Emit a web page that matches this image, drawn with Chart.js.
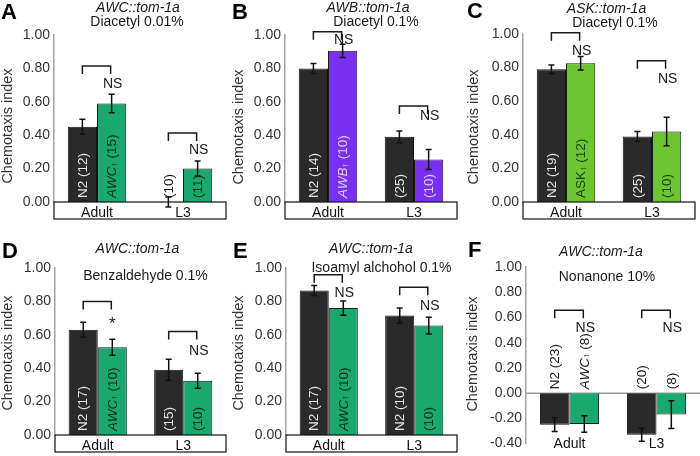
<!DOCTYPE html>
<html>
<head>
<meta charset="utf-8">
<script src="https://cdn.jsdelivr.net/npm/chart.js@4.4.1/dist/chart.umd.min.js"></script>
<style>
  html,body{margin:0;padding:0;background:#fff;}
  body{width:700px;height:456px;overflow:hidden;position:relative;}
  canvas{position:absolute;}
</style>
</head>
<body>
<script>
const FONT = "'Liberation Sans', Arial, Helvetica, sans-serif";

// ---- shared ----
const categories = ['Adult', 'L3'];
const yRangeMain = [0, 1.0];
const yRangeF = [-0.4, 1.0];
const yStep = 0.2;

// ---- Panel A: AWC::tom-1a, Diacetyl 0.01% ----
const aN2 = [0.45, 0.00];
const aN2Err = [0.045, 0.03];
const aMut = [0.59, 0.20];
const aMutErr = [0.055, 0.045];
const aN2Labels = ['N2 (12)', '(10)'];
const aMutLabels = ['AWC↑ (15)', '(11)'];
const aSig = ['NS', 'NS'];

// ---- Panel B: AWB::tom-1a, Diacetyl 0.1% ----
const bN2 = [0.80, 0.39];
const bN2Err = [0.03, 0.035];
const bMut = [0.905, 0.255];
const bMutErr = [0.04, 0.06];
const bN2Labels = ['N2 (14)', '(25)'];
const bMutLabels = ['AWB↑ (10)', '(10)'];
const bSig = ['NS', 'NS'];

// ---- Panel C: ASK::tom-1a, Diacetyl 0.1% ----
const cN2 = [0.79, 0.39];
const cN2Err = [0.025, 0.03];
const cMut = [0.826, 0.42];
const cMutErr = [0.04, 0.085];
const cN2Labels = ['N2 (19)', '(25)'];
const cMutLabels = ['ASK↑ (12)', '(10)'];
const cSig = ['NS', 'NS'];

// ---- Panel D: AWC::tom-1a, Benzaldehyde 0.1% ----
const dN2 = [0.63, 0.39];
const dN2Err = [0.045, 0.064];
const dMut = [0.525, 0.325];
const dMutErr = [0.048, 0.045];
const dN2Labels = ['N2 (17)', '(15)'];
const dMutLabels = ['AWC↑ (10)', '(10)'];
const dSig = ['*', 'NS'];

// ---- Panel E: AWC::tom-1a, Isoamyl alchohol 0.1% ----
const eN2 = [0.865, 0.715];
const eN2Err = [0.03, 0.045];
const eMut = [0.76, 0.655];
const eMutErr = [0.043, 0.05];
const eN2Labels = ['N2 (17)', 'N2 (10)'];
const eMutLabels = ['AWC↑ (10)', '(10)'];
const eSig = ['NS', 'NS'];

// ---- Panel F: AWC::tom-1a, Nonanone 10% ----
const fN2 = [-0.25, -0.33];
const fN2Err = [0.055, 0.052];
const fMut = [-0.245, -0.17];
const fMutErr = [0.065, 0.11];
const fN2Labels = ['N2 (23)', '(20)'];
const fMutLabels = ['AWC↑ (8)', '(8)'];
const fSig = ['NS', 'NS'];

const N2_COLOR = '#2a2a2a';
const N2_TEXT = '#e6e6e6';
const AWC_GREEN = '#19a96e';
const AWC_TEXT = '#0e2a1c';
const LABEL_PX = 13.5;

const panels = [
  {letter:'A', letterPos:[1,18.5], canvas:[0,0,232,228], area:[54,35,226,202], range:yRangeMain, box:true,
   title:['AWC::tom-1a','Diacetyl 0.01%'], titlePos:[[138,12],[137,25.5]], yTitle:[8,126],
   mutName:'AWC', mutItalic:true, mutColor:AWC_GREEN, mutText:AWC_TEXT,
   n2:aN2, n2Err:aN2Err, mut:aMut, mutErr:aMutErr, n2Labels:aN2Labels, mutLabels:aMutLabels, sig:aSig,
   brackets:[[0.814,0.71],[0.413,0.32]]},
  {letter:'B', letterPos:[232,18.5], canvas:[228,0,240,228], area:[285,35,457,202], range:yRangeMain, box:true,
   title:['AWB::tom-1a','Diacetyl 0.1%'], titlePos:[[368,12],[376,25.5]], yTitle:[239,127],
   mutName:'AWB', mutItalic:true, mutColor:'#7a30f0', mutText:'#dccfff',
   n2:bN2, n2Err:bN2Err, mut:bMut, mutErr:bMutErr, n2Labels:bN2Labels, mutLabels:bMutLabels, sig:bSig,
   brackets:[[1.02,0.976],[0.575,0.52]]},
  {letter:'C', letterPos:[467,18], canvas:[462,0,238,228], area:[523,34,695,202], range:yRangeMain, box:true,
   title:['ASK::tom-1a','Diacetyl 0.1%'], titlePos:[[606.5,12.5],[615,26.5]], yTitle:[474,127],
   mutName:'ASK', mutItalic:false, mutColor:'#6cc631', mutText:'#173f0c',
   n2:cN2, n2Err:cN2Err, mut:cMut, mutErr:cMutErr, n2Labels:cN2Labels, mutLabels:cMutLabels, sig:cSig,
   brackets:[[1.008,0.905],[0.841,0.736]]},
  {letter:'D', letterPos:[2,258], canvas:[0,228,232,228], area:[55,268,226,435], range:yRangeMain, box:true,
   title:['AWC::tom-1a','Benzaldehyde 0.1%'], titlePos:[[137.5,253],[145.5,280]], yTitle:[8,353],
   mutName:'AWC', mutItalic:true, mutColor:AWC_GREEN, mutText:AWC_TEXT,
   n2:dN2, n2Err:dN2Err, mut:dMut, mutErr:dMutErr, n2Labels:dN2Labels, mutLabels:dMutLabels, sig:dSig,
   brackets:[[0.80,0.69],[0.62,0.51]]},
  {letter:'E', letterPos:[233,258], canvas:[228,228,240,228], area:[286,268,457,435], range:yRangeMain, box:true,
   title:['AWC::tom-1a','Isoamyl alchohol 0.1%'], titlePos:[[371,253],[381.5,272]], yTitle:[239,353],
   mutName:'AWC', mutItalic:true, mutColor:AWC_GREEN, mutText:AWC_TEXT,
   n2:eN2, n2Err:eN2Err, mut:eMut, mutErr:eMutErr, n2Labels:eN2Labels, mutLabels:eMutLabels, sig:eSig,
   brackets:[[0.96,0.856],[0.884,0.776]]},
  {letter:'F', letterPos:[468,256.5], canvas:[462,228,238,228], area:[526,267,700,447], range:yRangeF, box:false, zeroLine:true,
   title:['AWC::tom-1a','Nonanone 10%'], titlePos:[[601,256],[607,281]], yTitle:[473,354],
   mutName:'AWC', mutItalic:true, mutColor:AWC_GREEN, mutText:AWC_TEXT,
   n2:fN2, n2Err:fN2Err, mut:fMut, mutErr:fMutErr, n2Labels:fN2Labels, mutLabels:fMutLabels, sig:fSig,
   brackets:[[0.658,0.528],[0.658,0.528]]}
];

// split a label into styled segments: italic cell name, small arrow, rest
function segments(text, prefix, italic) {
  const segs = [];
  if (prefix && text.startsWith(prefix)) {
    segs.push({t: prefix, f: (italic ? 'italic ' : '') + LABEL_PX + 'px ' + FONT, dy: 0});
    text = text.slice(prefix.length);
  }
  if (text.startsWith('↑')) {
    segs.push({t: '↑', f: '9px ' + FONT, dy: 2});
    text = text.slice(1);
  }
  segs.push({t: text, f: LABEL_PX + 'px ' + FONT, dy: 0});
  return segs;
}

function labelWidth(ctx, text, prefix, italic) {
  let w = 0;
  segments(text, prefix, italic).forEach(s => { ctx.font = s.f; w += ctx.measureText(s.t).width; });
  return w;
}

function rotLabel(ctx, x, y, text, prefix, italic, color) {
  ctx.save();
  ctx.translate(x, y);
  ctx.rotate(-Math.PI / 2);
  ctx.fillStyle = color;
  ctx.textBaseline = 'middle';
  ctx.textAlign = 'left';
  let pos = 0;
  segments(text, prefix, italic).forEach(s => {
    ctx.font = s.f;
    ctx.fillText(s.t, pos, s.dy);
    pos += ctx.measureText(s.t).width;
  });
  ctx.restore();
}

function panelPlugin(p) {
  const ox = p.canvas[0], oy = p.canvas[1];
  return {
    id: 'panel' + p.letter,
    beforeDatasetsDraw(chart) {
      if (!p.zeroLine) return;
      const ctx = chart.ctx, y = chart.scales.y, a = chart.chartArea;
      const z = y.getPixelForValue(0);
      ctx.save();
      ctx.strokeStyle = '#9c9c9c';
      ctx.lineWidth = 1.5;
      ctx.beginPath();
      ctx.moveTo(a.left, z); ctx.lineTo(a.right, z);
      ctx.stroke();
      ctx.restore();
    },
    afterDraw(chart) {
      const ctx = chart.ctx, ys = chart.scales.y, xs = chart.scales.x, a = chart.chartArea;
      const m0 = chart.getDatasetMeta(0), m1 = chart.getDatasetMeta(1);
      const zero = ys.getPixelForValue(0);
      ctx.save();

      // category box / labels
      if (p.box) {
        const bh = 17;
        ctx.fillStyle = '#fff';
        ctx.fillRect(a.left, zero, a.right - a.left, bh);
        ctx.strokeStyle = '#111';
        ctx.lineWidth = 1.2;
        ctx.strokeRect(a.left, zero, a.right - a.left, bh);
        ctx.fillStyle = '#111';
        ctx.font = '14px ' + FONT;
        ctx.textAlign = 'center';
        ctx.textBaseline = 'alphabetic';
        categories.forEach((c, i) => ctx.fillText(c, xs.getPixelForValue(i), zero + bh - 2));
      } else {
        ctx.fillStyle = '#111';
        ctx.font = '14px ' + FONT;
        ctx.textAlign = 'center';
        ctx.textBaseline = 'alphabetic';
        categories.forEach((c, i) => ctx.fillText(c, xs.getPixelForValue(i), 448 - oy));
      }

      // error bars
      ctx.strokeStyle = '#111';
      ctx.lineWidth = 1.5;
      const sets = [[m0, p.n2, p.n2Err], [m1, p.mut, p.mutErr]];
      sets.forEach(([meta, vals, errs]) => {
        vals.forEach((v, i) => {
          const x = meta.data[i].x;
          const y1 = ys.getPixelForValue(v + errs[i]);
          const y2 = ys.getPixelForValue(v - errs[i]);
          ctx.beginPath();
          ctx.moveTo(x, y1); ctx.lineTo(x, y2);
          ctx.moveTo(x - 3, y1); ctx.lineTo(x + 3, y1);
          ctx.moveTo(x - 3, y2); ctx.lineTo(x + 3, y2);
          ctx.stroke();
        });
      });

      // rotated bar labels
      const lab = [[m0, p.n2, p.n2Labels, N2_TEXT, null, false], [m1, p.mut, p.mutLabels, p.mutText, p.mutName, p.mutItalic]];
      lab.forEach(([meta, vals, texts, inColor, prefix, italic]) => {
        texts.forEach((t, i) => {
          const x = meta.data[i].x;
          const h = zero - ys.getPixelForValue(vals[i]);
          const w = labelWidth(ctx, t, prefix, italic);
          const inside = vals[i] > 0 && h >= w + 6;
          rotLabel(ctx, x + 0.5, zero - 4, t, prefix, italic, inside ? inColor : '#1a1a1a');
        });
      });

      // significance brackets
      ctx.strokeStyle = '#1a1a1a';
      ctx.lineWidth = 1.5;
      p.brackets.forEach(([top, txtY], i) => {
        const xl = m0.data[i].x, xr = m1.data[i].x - 1;
        const yt = ys.getPixelForValue(top);
        ctx.beginPath();
        ctx.moveTo(xl, yt + 8); ctx.lineTo(xl, yt); ctx.lineTo(xr, yt); ctx.lineTo(xr, yt + 8);
        ctx.stroke();
        const s = p.sig[i];
        const yc = ys.getPixelForValue(txtY);
        ctx.fillStyle = '#1a1a1a';
        ctx.textAlign = 'center';
        ctx.textBaseline = 'alphabetic';
        if (s === '*') {
          ctx.font = '17px ' + FONT;
          ctx.fillText(s, xr + 1, yc + 9);
        } else {
          ctx.font = '14px ' + FONT;
          ctx.fillText(s, xr + 2, yc + 5);
        }
      });

      // titles
      ctx.fillStyle = '#1a1a1a';
      ctx.textAlign = 'center';
      ctx.textBaseline = 'alphabetic';
      ctx.font = 'italic 14px ' + FONT;
      ctx.fillText(p.title[0], p.titlePos[0][0] - ox, p.titlePos[0][1] - oy);
      ctx.font = '14px ' + FONT;
      ctx.fillText(p.title[1], p.titlePos[1][0] - ox, p.titlePos[1][1] - oy);

      // panel letter
      ctx.textAlign = 'left';
      ctx.font = 'bold 22px ' + FONT;
      ctx.fillStyle = '#000';
      ctx.fillText(p.letter, p.letterPos[0] - ox, p.letterPos[1] - oy);

      // y axis title
      ctx.save();
      ctx.translate(p.yTitle[0] - ox, p.yTitle[1] - oy);
      ctx.rotate(-Math.PI / 2);
      ctx.textAlign = 'center';
      ctx.textBaseline = 'middle';
      ctx.font = '14.5px ' + FONT;
      ctx.fillStyle = '#333';
      ctx.fillText('Chemotaxis index', 0, 0);
      ctx.restore();

      ctx.restore();
    }
  };
}

function makePanel(p) {
  const [cx, cy, cw, ch] = p.canvas;
  const [L, T, R, B] = p.area;
  const c = document.createElement('canvas');
  c.width = cw; c.height = ch;
  c.style.left = cx + 'px'; c.style.top = cy + 'px';
  c.style.width = cw + 'px'; c.style.height = ch + 'px';
  document.body.appendChild(c);
  new Chart(c, {
    type: 'bar',
    data: {
      labels: categories,
      datasets: [
        {data: p.n2, backgroundColor: N2_COLOR, borderColor: '#111', borderWidth: 1,
         categoryPercentage: 0.68, barPercentage: 1.0},
        {data: p.mut, backgroundColor: p.mutColor, borderColor: '#1a1a1a', borderWidth: 1,
         categoryPercentage: 0.68, barPercentage: 1.0}
      ]
    },
    options: {
      responsive: false,
      animation: false,
      devicePixelRatio: 1,
      layout: {padding: {left: 0, top: T - cy, right: cx + cw - R, bottom: cy + ch - B}},
      plugins: {legend: {display: false}, tooltip: {enabled: false}},
      scales: {
        x: {display: false},
        y: {
          min: p.range[0], max: p.range[1],
          afterFit: (s) => { s.width = L - cx; },
          ticks: {stepSize: yStep, padding: 4, color: '#333', font: {family: FONT, size: 14},
                  callback: (v) => (Math.abs(v) < 1e-9 ? 0 : v).toFixed(2)},
          grid: {display: false, drawTicks: false},
          border: {display: true, color: '#a3a3a3', width: 1.5}
        }
      }
    },
    plugins: [panelPlugin(p)]
  });
}

panels.forEach(makePanel);
</script>
</body>
</html>
